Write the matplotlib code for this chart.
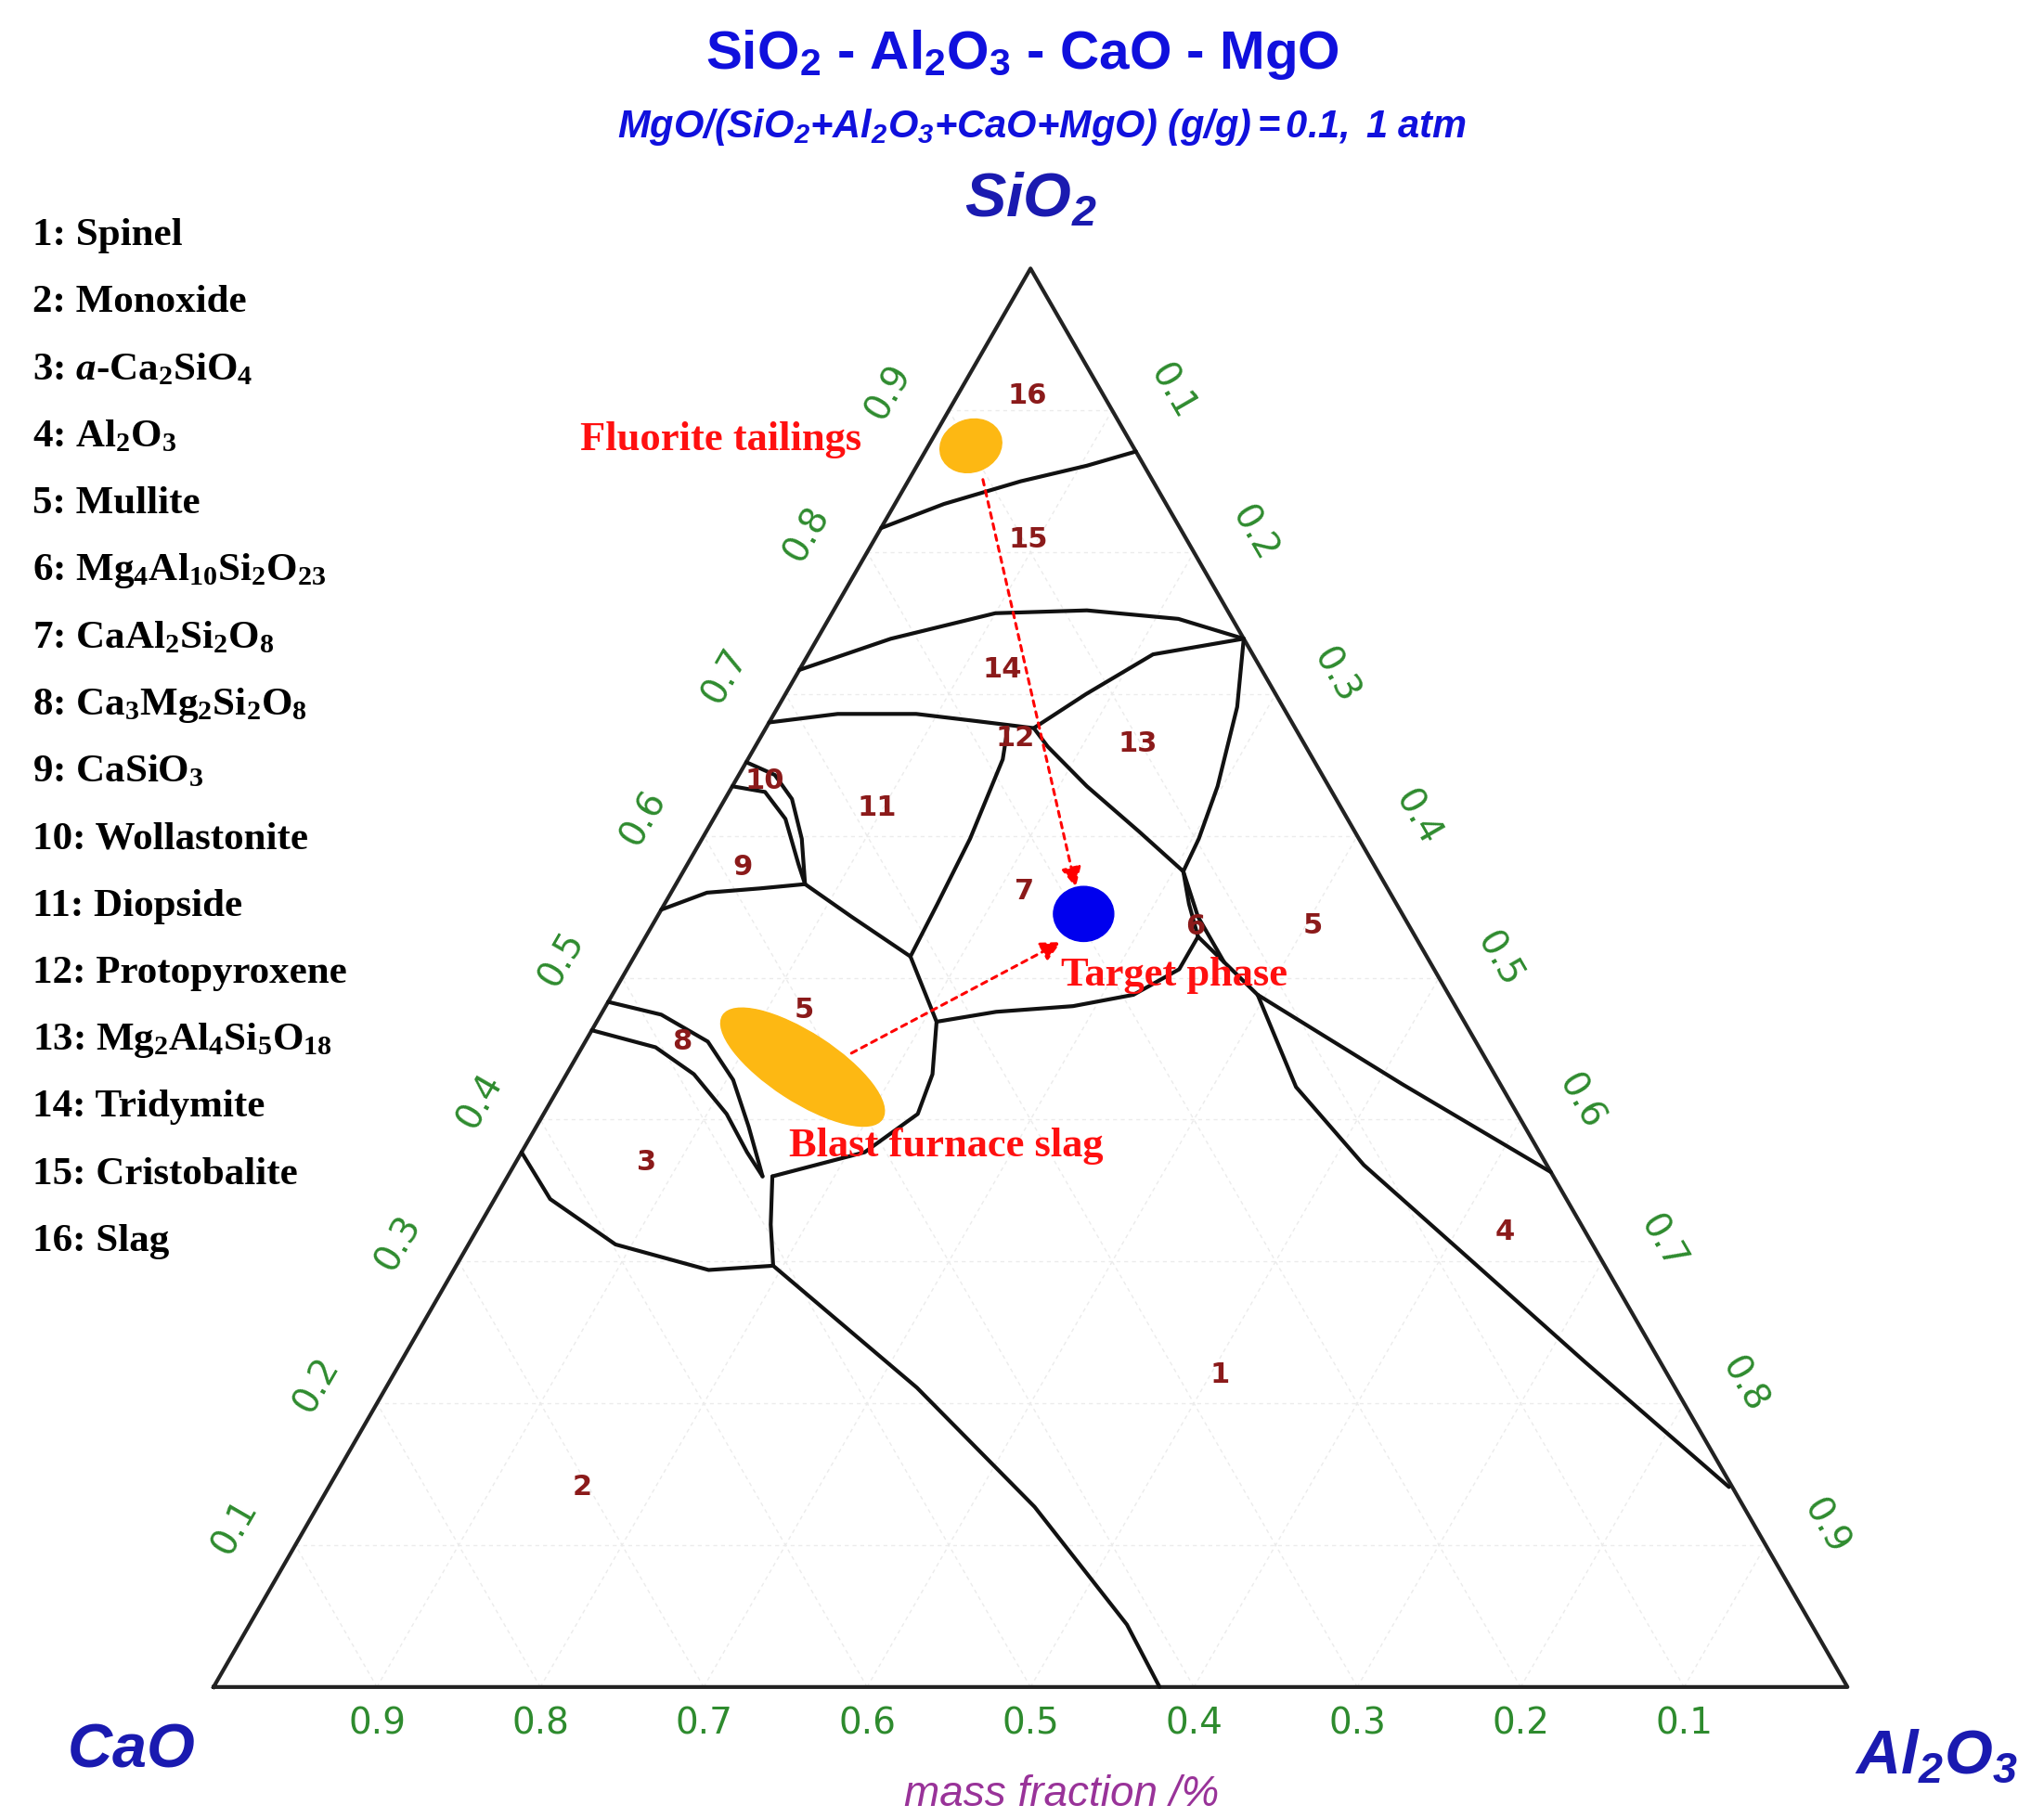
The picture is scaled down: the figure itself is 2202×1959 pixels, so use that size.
import matplotlib
matplotlib.use("Agg")
import matplotlib.pyplot as plt
from matplotlib.patches import Ellipse, FancyArrowPatch
import numpy as np

plt.rcParams['mathtext.fontset'] = 'custom'
plt.rcParams['mathtext.bf'] = 'Liberation Serif:bold'
plt.rcParams['mathtext.it'] = 'Liberation Serif:bold:italic'
plt.rcParams['mathtext.sf'] = 'Liberation Sans:bold'
plt.rcParams['mathtext.tt'] = 'Liberation Sans:bold:italic'
plt.rcParams['mathtext.rm'] = 'Liberation Sans:bold:italic'

# ---- data: phase boundaries as (SiO2, Al2O3) mass fractions ----
b_cristobalite = [(0.817, 0.0), (0.834, 0.030), (0.850, 0.069), (0.861, 0.104), (0.871, 0.129)]
b_tridymite = [(0.717, 0.0), (0.739, 0.045), (0.757, 0.100), (0.759, 0.155), (0.753, 0.214), (0.739, 0.261)]
b_14low = [(0.680, 0.0), (0.686, 0.039), (0.686, 0.087), (0.681, 0.126), (0.676, 0.164),
           (0.700, 0.184), (0.728, 0.211), (0.739, 0.261)]
b_13right = [(0.739, 0.261), (0.691, 0.281), (0.635, 0.297), (0.598, 0.304), (0.575, 0.306)]
b_13left = [(0.676, 0.164), (0.663, 0.179), (0.635, 0.217), (0.603, 0.265), (0.575, 0.306)]
b_11_7 = [(0.676, 0.148), (0.654, 0.156), (0.598, 0.164), (0.552, 0.167), (0.515, 0.169)]
b_11_5 = [(0.566, 0.079), (0.543, 0.119), (0.515, 0.169), (0.469, 0.208), (0.432, 0.224),
          (0.404, 0.229), (0.377, 0.210), (0.360, 0.162)]
b_7_5 = [(0.469, 0.208), (0.476, 0.241), (0.480, 0.286), (0.488, 0.319), (0.506, 0.338),
         (0.529, 0.338), (0.552, 0.321), (0.575, 0.306)]
b_6a = [(0.575, 0.306), (0.543, 0.331), (0.511, 0.363)]
b_6b = [(0.529, 0.338), (0.511, 0.363), (0.488, 0.395)]
b_5_4 = [(0.488, 0.395), (0.425, 0.515), (0.363, 0.637)]
b_4_1 = [(0.488, 0.395), (0.423, 0.451), (0.368, 0.520), (0.303, 0.616), (0.229, 0.725), (0.141, 0.857)]
b_10a = [(0.652, 0.0), (0.643, 0.022), (0.626, 0.041), (0.598, 0.061), (0.566, 0.079)]
b_10b = [(0.635, 0.0), (0.631, 0.022), (0.612, 0.044), (0.580, 0.068), (0.566, 0.079)]
b_9 = [(0.548, 0.0), (0.560, 0.022), (0.563, 0.053), (0.566, 0.079)]
b_8a = [(0.483, 0.0), (0.474, 0.037), (0.455, 0.075), (0.428, 0.104), (0.395, 0.130), (0.360, 0.156)]
b_8b = [(0.463, 0.0), (0.451, 0.045), (0.432, 0.078), (0.404, 0.112), (0.377, 0.138), (0.360, 0.156)]
b_3 = [(0.377, 0.0), (0.344, 0.034), (0.312, 0.090), (0.294, 0.156), (0.297, 0.194)]
b_3r = [(0.360, 0.162), (0.326, 0.178), (0.297, 0.194)]
b_2_1 = [(0.297, 0.194), (0.211, 0.325), (0.127, 0.439), (0.044, 0.537), (0.0, 0.579)]
boundaries = [b_cristobalite, b_tridymite, b_14low, b_13right, b_13left, b_11_7, b_11_5, b_7_5,
              b_6a, b_6b, b_5_4, b_4_1, b_10a, b_10b, b_9, b_8a, b_8b, b_3, b_3r, b_2_1]

region_labels = ['16', '15', '14', '12', '13', '10', '11', '9', '7', '6', '5', '5', '8', '3', '4', '1', '2']
region_pos = [(0.910, 0.043), (0.809, 0.094), (0.717, 0.124), (0.669, 0.156), (0.665, 0.233),
              (0.639, 0.018), (0.620, 0.096), (0.578, 0.035), (0.561, 0.216), (0.536, 0.333),
              (0.537, 0.404), (0.477, 0.123), (0.455, 0.059), (0.370, 0.080), (0.321, 0.630),
              (0.220, 0.506), (0.141, 0.155)]

legend_items = [r'1: Spinel', r'2: Monoxide', r'3: $\mathit{a}$-Ca$_\mathbf{2}$SiO$_\mathbf{4}$',
                r'4: Al$_\mathbf{2}$O$_\mathbf{3}$', r'5: Mullite',
                r'6: Mg$_\mathbf{4}$Al$_\mathbf{10}$Si$_\mathbf{2}$O$_\mathbf{23}$',
                r'7: CaAl$_\mathbf{2}$Si$_\mathbf{2}$O$_\mathbf{8}$',
                r'8: Ca$_\mathbf{3}$Mg$_\mathbf{2}$Si$_\mathbf{2}$O$_\mathbf{8}$',
                r'9: CaSiO$_\mathbf{3}$', r'10: Wollastonite', r'11: Diopside', r'12: Protopyroxene',
                r'13: Mg$_\mathbf{2}$Al$_\mathbf{4}$Si$_\mathbf{5}$O$_\mathbf{18}$', r'14: Tridymite',
                r'15: Cristobalite', r'16: Slag']

fluorite = (0.875, 0.026)
target = (0.545, 0.260)
bf_slag = (0.437, 0.142)
arrow1 = [(0.853, 0.044), (0.562, 0.247)]
arrow2 = [(0.446, 0.166), (0.526, 0.257)]
ticks = [0.1, 0.2, 0.3, 0.4, 0.5, 0.6, 0.7, 0.8, 0.9]

# ---- ternary scale (figure units) ----
X0, Y0, W, H = 163, 1288, 1247, 1083
def tern(s, a):
    s = np.asarray(s, float); a = np.asarray(a, float)
    return X0 + W * a + W / 2 * s, Y0 - H * s

fig = plt.figure(figsize=(22.02, 19.59), dpi=100)
ax = fig.add_axes([0, 0, 1, 1])
ax.set_xlim(0, 1560); ax.set_ylim(1388, 0); ax.axis('off')

# grid
for t in ticks:
    for p, q in [((t, 0), (t, 1 - t)), ((0, t), (1 - t, t)), ((0, 1 - t), (1 - t, 0))]:
        x, y = tern([p[0], q[0]], [p[1], q[1]])
        ax.plot(x, y, color='#ebebeb', lw=1, ls=(0, (3, 3)), zorder=1)

x, y = tern([0, 0, 1, 0], [0, 1, 0, 0])
ax.plot(x, y, color='#222222', lw=3, zorder=3)
for b in boundaries:
    s, a = zip(*b)
    x, y = tern(s, a)
    ax.plot(x, y, color='#111111', lw=3, zorder=3, solid_capstyle='round')

for lab, (s, a) in zip(region_labels, region_pos):
    x, y = tern(s, a)
    ax.text(x, y, lab, color='#8b1a1a', fontsize=22, fontweight='bold', ha='center', va='center', zorder=4)

green = '#2e8b2e'
for t in ticks:
    x, y = tern(0, 1 - t)
    ax.text(x, y + 28, f'{t:.1f}', color=green, fontsize=28, ha='center', va='center')
    x, y = tern(t, 0)
    ax.text(x - 46, y - 14, f'{t:.1f}', color=green, fontsize=28, ha='center', va='center', rotation=60)
    x, y = tern(1 - t, t)
    ax.text(x + 46, y - 14, f'{t:.1f}', color=green, fontsize=28, ha='center', va='center', rotation=-60)

# markers
ex, ey = tern(*fluorite)
ax.add_patch(Ellipse((ex, ey), 48, 40, angle=-20, color='#fdb813', zorder=5))
ex, ey = tern(*target)
ax.add_patch(Ellipse((ex, ey), 46, 42, angle=0, color='#0000ee', zorder=5))
ex, ey = tern(*bf_slag)
ax.add_patch(Ellipse((ex, ey), 145, 52, angle=33, color='#fdb813', zorder=5))
for arr in (arrow1, arrow2):
    (s1, a1), (s2, a2) = arr
    p1 = tern(s1, a1); p2 = tern(s2, a2)
    ax.add_patch(FancyArrowPatch(p1, p2, arrowstyle='-|>', mutation_scale=32, color='red',
                                 lw=2.2, ls=(0, (2, 2)), zorder=6))

red = '#ff1010'
for txt, px, py in [('Fluorite tailings', 443, 336), ('Target phase', 810, 745),
                    ('Blast furnace slag', 602, 875)]:
    ax.text(px, py, txt, color=red, fontsize=32, fontweight='bold',
            family='Liberation Serif', ha='left', va='center')

for i, t in enumerate(legend_items):
    ax.text(25, 180 + 51.2 * i, t, fontsize=31, fontweight='bold', family='Liberation Serif',
            ha='left', va='center', color='black')

blue = '#1010dd'
ax.text(780, 42, r'SiO$_\mathsf{2}$ - Al$_\mathsf{2}$O$_\mathsf{3}$ - CaO - MgO', color=blue, fontsize=42,
        fontweight='bold', family='Liberation Sans', ha='center', va='center')
ax.text(795, 97, r'$\mathtt{MgO/(SiO_2{+}Al_2O_3{+}CaO{+}MgO)\ (g/g){=}0.1,\ 1\ atm}$', color=blue,
        fontsize=30, ha='center', va='center')
navy = '#1a1ab0'
ax.text(787, 152, r'$\mathtt{SiO_2}$', color=navy, fontsize=48, ha='center', va='center')
ax.text(100, 1335, r'$\mathtt{CaO}$', color=navy, fontsize=48, ha='center', va='center')
ax.text(1478, 1340, r'$\mathtt{Al_2O_3}$', color=navy, fontsize=48, ha='center', va='center')
ax.text(810, 1370, 'mass fraction /%', color='#993399', fontsize=33, style='italic',
        family='Liberation Sans', ha='center', va='center')

fig.savefig('out.png', dpi=100)
